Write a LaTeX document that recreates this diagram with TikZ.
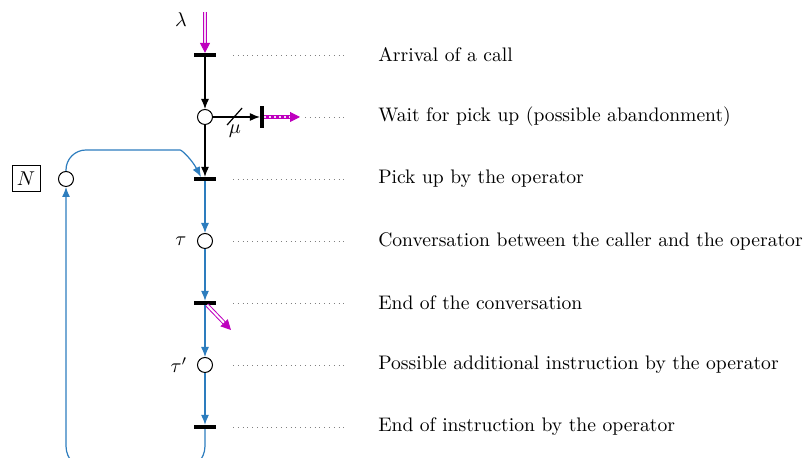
\documentclass[tikz,border=0pt]{standalone}
\usepackage{amsmath,amssymb}
\usepackage{xcolor}
\usetikzlibrary{arrows.meta,calc}

\definecolor{flowblue}{RGB}{45,125,190}
\definecolor{flowmag}{RGB}{190,0,190}

\begin{document}
\begin{tikzpicture}[x=0.5pt, y=-0.5pt, >={Latex[length=5pt,width=4pt]}, line width=0.6pt,
    every node/.style={font=\fontsize{9.8}{11}\selectfont},
    place/.style={circle, draw, line width=0.5pt, minimum size=7.5pt, inner sep=0pt},
    trans/.style={draw, fill, minimum width=10pt, minimum height=1.5pt, inner sep=0pt},
    guide/.style={dotted, gray, line width=0.4pt},
    label/.style={anchor=west}]
    \clip (0,0) rectangle (811,458);

    % places and transitions
    \node[trans] (t1) at (205,55) {};
    \node[place] (p1) at (205,117) {};
    \node[trans] (t2) at (205,179) {};
    \node[place] (p2) at (205,241) {};
    \node[trans] (t3) at (205,303) {};
    \node[place] (p3) at (205,365) {};
    \node[trans] (t4) at (205,427) {};
    \node[trans, minimum width=1.5pt, minimum height=10pt] (tab) at (262,117) {};

    \node[place] (pN) at (66,179) {};
    \node[draw, line width=0.5pt, minimum width=14pt, minimum height=13pt, inner sep=0pt] (nN) at (26,179) {$N$};

    \node (lam) at (181,20) {$\lambda$};
    \node (tau) at (181,241) {$\tau$};
    \node (taup) at (179,365) {$\tau'$};

    % black arcs
    \draw[->] (t1) -- (p1);
    \draw[->] (p1) -- (t2);
    \draw[->] (p1) -- (tab) coordinate[pos=0.45] (cut);
    \draw (cut) ++(-7,8) -- ++(15,-17);
    \node (mu) at (235,131) {$\mu$};

    % blue arcs
    \draw[flowblue, ->] (t2) -- (p2);
    \draw[flowblue, ->] (p2) -- (t3);
    \draw[flowblue, ->] (t3) -- (p3);
    \draw[flowblue, ->] (p3) -- (t4);
    \draw[flowblue, ->, rounded corners=12pt] (t4) -- (205,470) -- (66,470) -- (pN);
    \draw[flowblue, ->] (pN) [rounded corners=10pt] -- (66,150) -- (160,150) [sharp corners] .. controls (182,150) and (192,160) .. ([xshift=-2pt]t2.north);

    % arrivals and departures
    \coordinate (src) at (205,12);
    \draw[flowmag, line width=0.5pt, double=flowmag!15, double distance=1pt, -{Triangle[length=5pt,width=5pt]}] (src) -- (t1.north);
    \coordinate (snk) at (300,117);
    \draw[flowmag, line width=0.5pt, double=flowmag!15, double distance=1pt, -{Triangle[length=5pt,width=5pt]}] (tab.east) -- (snk);
    \draw[flowmag, line width=0.9pt, dash pattern=on 1.5pt off 1pt] (tab.east) ++(2,0) -- ($(snk)+(-10,0)$);
    \coordinate (out) at (231,330);
    \draw[flowmag, line width=0.5pt, double=white, double distance=1pt, -{Triangle[length=5pt,width=5pt]}] ($(t3)+(2,2)$) -- (out);

    % guides and labels
    \draw[guide] (233,55) -- (345,55);
    \draw[guide] (305,117) -- (345,117);
    \draw[guide] (233,179) -- (345,179);
    \draw[guide] (233,241) -- (345,241);
    \draw[guide] (233,303) -- (345,303);
    \draw[guide] (233,365) -- (345,365);
    \draw[guide] (233,427) -- (345,427);

    \node[label] (l1) at (371,55) {Arrival of a call};
    \node[label] (l2) at (371,117) {Wait for pick up (possible abandonment)};
    \node[label] (l3) at (371,179) {Pick up by the operator};
    \node[label] (l4) at (371,241) {Conversation between the caller and the operator};
    \node[label] (l5) at (371,303) {End of the conversation};
    \node[label] (l6) at (371,365) {Possible additional instruction by the operator};
    \node[label] (l7) at (371,427) {End of instruction by the operator};
\end{tikzpicture}
\end{document}
